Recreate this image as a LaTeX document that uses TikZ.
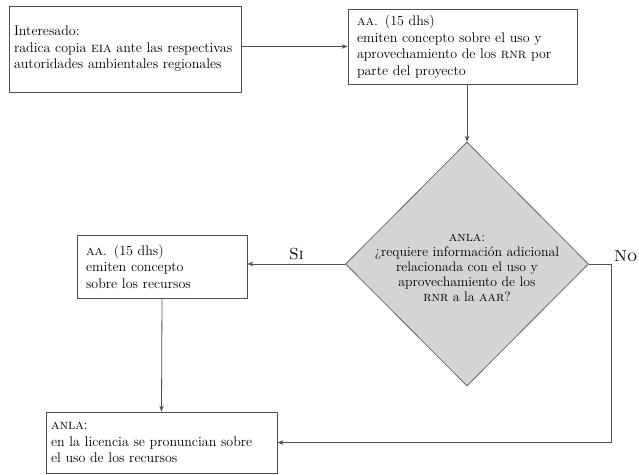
\documentclass[tikz,border=0pt]{standalone}
\usepackage{fontspec}
\usetikzlibrary{arrows.meta,shapes.geometric,calc}
\definecolor{rombo}{RGB}{211,212,214}
\definecolor{linea}{RGB}{80,80,80}
\tikzset{
  caja/.style={draw=linea, line width=0.8pt, align=left, inner ysep=0pt, font=\fontsize{14}{16.5}\selectfont},
  flecha/.style={draw=linea, line width=0.8pt, -{Stealth[length=6pt,width=4.5pt]}},
  rotulo/.style={font=\fontsize{16}{18}\selectfont}
}
\begin{document}
\begin{tikzpicture}[x=1pt,y=-1pt]
    \useasboundingbox (0,0) rectangle (639,474);

    % cajas
    \node[caja, inner xsep=5pt, text width=222pt, minimum height=86pt] (interesado) at (125,49)
        {Interesado:\\ radica copia \textsc{eia} ante las respectivas\\ autoridades ambientales regionales};
    \node[caja, inner xsep=9pt, text width=211pt, minimum height=75pt] (concepto) at (462.5,46.5)
        {\textsc{aa}. (\oldstylenums{15} dhs)\\ emiten concepto sobre el uso y\\ aprovechamiento de los \textsc{rnr} por\\ parte del proyecto};
    \node[caja, inner xsep=9pt, text width=152pt, minimum height=63pt] (recursos) at (162,266.5)
        {\textsc{aa}. (\oldstylenums{15} dhs)\\ emiten concepto\\ sobre los recursos};
    \node[caja, inner xsep=5pt, text width=221pt, minimum height=61pt] (licencia) at (161.5,442.5)
        {\textsc{anla}:\\ en la licencia se pronuncian sobre\\ el uso de los recursos};

    % decision
    \node[diamond, draw=linea, fill=rombo, line width=0.6pt, inner sep=0pt,
          minimum width=243pt, minimum height=244pt] (pregunta) at (467,264) {};
    \node[align=center, font=\fontsize{13.8}{15.2}\selectfont] (preguntatxt) at (467,268)
        {\textsc{anla}:\\ ¿requiere información adicional\\ relacionada con el uso y\\ aprovechamiento de los\\ \textsc{rnr} a la \textsc{aar}?};

    % conectores
    \draw[flecha] (interesado.east |- concepto.west) -- (concepto.west);
    \draw[flecha] (pregunta.north |- concepto.south) -- (pregunta.north);
    \draw[flecha] (pregunta.west) -- (pregunta.west -| recursos.east)
        node[midway, above, rotulo] (si) {\textsc{Si}};
    \draw[flecha] (recursos.south) -- (licencia.north);
    \coordinate (esquina) at ($(pregunta.east)+(23,0)$);
    \draw[flecha] (pregunta.east) -- (esquina) |- (licencia.east);
    \node[rotulo, anchor=south west, inner sep=2pt] (no) at (esquina) {\textsc{No}};

\end{tikzpicture}
\end{document}
